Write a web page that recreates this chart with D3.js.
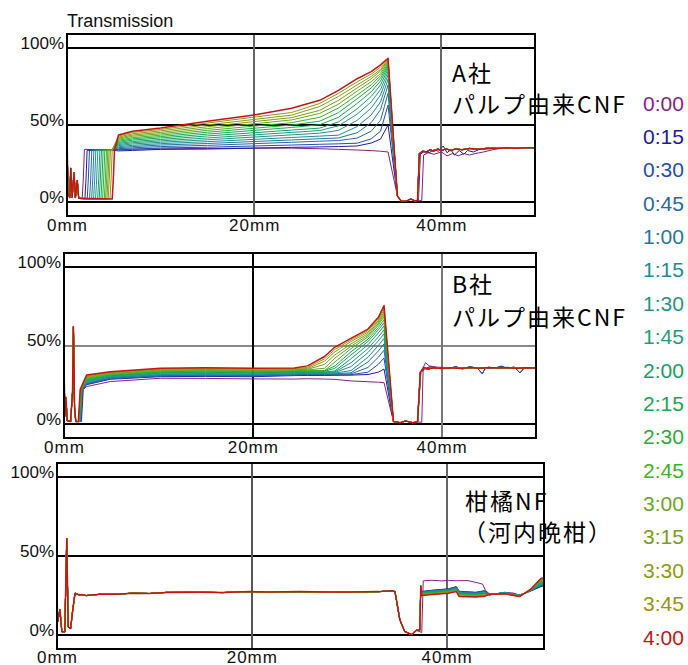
<!DOCTYPE html>
<html>
<head>
<meta charset="utf-8">
<script src="https://cdn.jsdelivr.net/npm/d3@7"></script>
<style>
body { margin: 0; background: #fff; }
svg { display: block; font-family: "Liberation Sans", Arial, sans-serif; }
.tick text { font-size: 17px; fill: #111; }
.note { font-family: "Noto Sans CJK JP", sans-serif; font-size: 23px; letter-spacing: 2px; fill: #000; }
.legend text { font-size: 21px; }
</style>
</head>
<body>
<svg id="chart" width="688" height="665"></svg>
<script>
// elapsed time of each profile
var times = ["0:00","0:15","0:30","0:45","1:00","1:15","1:30","1:45","2:00",
             "2:15","2:30","2:45","3:00","3:15","3:30","3:45","4:00"];
var colors = ["#8a1c8c","#1a1aa8","#1e50b0","#2868a8","#1e78a0","#1e8c98","#1e9688","#1e9e78","#14a064",
              "#14aa50","#1eb03c","#3cb428","#64aa1e","#78a014","#8c9b14","#96960f","#c81414"];

var xTicks = [0, 20, 40];
var yTicks = [0, 50, 100];

// ---- A社 パルプ由来CNF  (x = mm, y = %) ----
var headA = [[0,47],[0.1,5],[0.3,3],[0.4,22],[0.55,3],[0.75,19],[0.9,3],[1.1,14],[1.25,2.5]];
var stepA = [1.74,2.03,2.28,2.53,2.75,2.96,3.17,3.39,3.56,3.74,3.92,4.10,4.24,4.38,4.52,4.71,4.95];
var fanXA = [5.5, 7, 10, 15, 20, 24, 27, 29, 31, 32.5, 33.5, 34.3];
var fanA = [
  [34.2,34.4,34.5,34.8,35.0,35.0,34.6,34.2,33.8,33.4,33.0,32.5],
  [33.2,33.5,34.2,34.4,35.0,35.5,35.8,36.0,36.4,38.3,40.9,50.0],
  [33.9,34.3,35.1,35.6,36.4,37.0,37.5,37.8,38.2,41.0,46.0,63.0],
  [34.6,35.2,36.0,36.8,37.9,38.8,39.5,39.9,41.5,46.0,53.0,70.6],
  [35.3,36.0,37.0,38.0,39.3,40.3,41.1,41.6,45.0,51.5,60.0,76.0],
  [35.9,36.8,37.9,39.2,40.7,41.9,42.8,43.4,49.0,56.5,65.0,79.7],
  [36.6,37.7,38.8,40.4,42.2,43.6,44.7,46.5,53.0,61.0,69.5,82.5],
  [37.3,38.5,39.7,41.6,43.6,45.2,46.4,49.5,57.0,65.0,73.0,84.6],
  [38.0,39.3,40.6,42.9,45.0,46.7,48.0,52.0,60.5,68.5,76.0,86.4],
  [38.7,40.2,41.6,44.1,46.5,48.4,50.2,55.0,64.0,71.5,78.5,87.9],
  [39.4,41.0,42.5,45.3,47.9,50.0,52.5,58.0,67.0,74.0,80.5,89.0],
  [40.1,41.8,43.4,46.5,49.3,51.5,55.0,61.0,69.5,76.0,82.0,90.0],
  [40.8,42.7,44.3,47.7,50.8,53.3,57.5,63.5,72.0,78.0,83.5,90.9],
  [41.4,43.5,45.2,48.9,52.2,54.8,59.5,66.0,74.0,80.0,85.0,91.6],
  [42.1,44.3,46.2,50.1,53.6,56.4,62.0,68.5,76.0,81.5,86.0,92.2],
  [42.8,45.2,47.1,51.3,55.1,58.1,64.0,70.5,78.0,83.0,87.5,92.6],
  [43.5,46.0,48.0,52.5,56.5,60.8,66.0,72.5,80.0,84.6,89.0,93.3]
];
var dropA = [[35.3,4],[35.7,0.6],[36.2,0.5],[36.7,2],[37.2,0.8]];
var tailA = [[37.45,1.2],[37.65,31.5],[38.0,33],[38.4,32.5],[38.8,34],[39.2,33],[39.6,34.5],[40.0,33.5],
             [40.5,34.5],[41.0,33.5],[41.5,34.5],[42.2,34],[43,34.8],[44,34.3],[45,35],[46,34.8],
             [47,35.2],[48,35],[49,35.3],[50,35.2]];
var tailA0 = [[37.9,1],[38.1,30.5],[38.6,32],[39.2,31],[40,32.5],[40.6,30],[41.2,31.5],[41.8,30],
              [42.4,31.5],[43,30.5],[43.6,31.5],[44.5,32.5],[45.5,34],[46.3,35],[47,34.8],[48,35],[50,35.2]];
var tailA1 = [[37.55,1.2],[37.75,31],[38.2,33],[38.7,32],[39.2,34],[39.7,33],[40.2,36.4],[40.6,32],
              [41,34],[41.4,30.5],[41.9,33.5],[42.4,31],[42.8,33.5],[43.4,32.5],[44,34],[45,34.6],
              [46,35],[48,35],[50,35.2]];

// ---- B社 パルプ由来CNF ----
var headB = [[0,37],[0.1,5],[0.2,17],[0.35,2],[0.7,1.5],[0.9,20],[1.0,62],[1.12,10],[1.25,1.5]];
var stepB = [1.95,1.88,1.86,1.84,1.82,1.80,1.78,1.76,1.74,1.72,1.70,1.68,1.67,1.66,1.65,1.64,1.62];
var fanXB = [2.4, 4.9, 10.2, 15, 20, 24.4, 25.8, 27.6, 28.7, 30.4, 32.2, 33.3, 33.9];
var fanB = [
  [23.8,27.0,29.1,29.0,28.7,28.6,28.8,28.6,28.4,27.4,26.9,26.6,26.3],
  [25.0,28.5,30.1,30.3,30.1,30.8,30.9,30.9,31.0,31.1,31.5,33.0,35.0],
  [25.4,28.8,30.5,30.7,30.5,31.1,31.2,31.2,31.3,31.4,33.0,38.0,42.0],
  [25.8,29.1,30.8,31.0,30.8,31.4,31.5,31.5,31.6,31.9,36.0,42.5,47.0],
  [26.2,29.5,31.2,31.4,31.2,31.8,31.9,31.9,32.0,32.6,39.5,46.5,51.0],
  [26.7,29.8,31.5,31.8,31.5,32.1,32.2,32.2,32.4,34.0,42.5,50.0,54.5],
  [27.1,30.1,31.9,32.1,31.9,32.4,32.5,32.5,32.8,36.5,45.5,53.0,57.5],
  [27.5,30.4,32.3,32.5,32.3,32.7,32.8,32.8,33.2,39.0,48.0,55.5,60.0],
  [27.9,30.7,32.6,32.9,32.6,33.0,33.1,33.1,33.8,41.5,50.5,58.0,62.5],
  [28.3,31.1,33.0,33.2,33.0,33.4,33.5,33.5,35.5,44.0,52.5,60.0,64.5],
  [28.7,31.4,33.3,33.6,33.3,33.7,33.8,33.8,37.0,46.0,54.0,61.5,66.5],
  [29.1,31.7,33.7,34.0,33.7,34.0,34.1,34.0,39.5,48.0,55.5,63.0,68.5],
  [29.5,32.0,34.1,34.3,34.1,34.3,34.4,35.5,42.0,49.5,56.5,64.0,70.0],
  [30.0,32.3,34.4,34.7,34.4,34.6,34.8,38.0,44.0,51.0,57.5,65.0,71.5],
  [30.4,32.7,34.8,35.1,34.8,35.0,35.3,40.0,46.0,52.5,58.5,66.0,73.0],
  [30.8,33.0,35.1,35.4,35.1,35.3,36.0,41.5,47.5,53.5,59.5,67.0,74.3],
  [31.2,33.3,35.5,35.8,35.5,35.6,37.0,43.0,49.0,54.6,60.5,68.0,75.5]
];
var dropB = [[34.9,1.5],[35.6,0.8],[36.2,1.8],[36.9,0.8],[37.45,1.2]];
var tailB = [[37.75,33],[38.1,36],[38.5,35],[39.2,35.8],[40,35.3],[41,35.8],[42,35.4],[43,35.9],
             [44,35.5],[45,36],[46,35.6],[47,35.9],[48,35.5],[49,35.8],[50,35.6]];
var tailB0 = [[37.9,1],[38.05,36],[38.3,39],[38.7,37],[39.5,36.2],[41,35.8],[43,35.5],[46,35.8],[50,35.6]];
var tailB1 = [[37.8,33],[38.2,35],[38.8,36.5],[39.4,35.2],[40,36],[40.8,35.2],[41.5,36.6],[42.2,35],
              [43,36.5],[43.8,35.5],[44.3,32],[44.7,36],[45.5,35.3],[46.3,36.8],[47,35.4],[47.7,36.3],
              [48.3,32.5],[48.8,36],[49.5,35.5],[50,36]];

// ---- 柑橘NF（河内晩柑） ----
var headC = [[0,37],[0.05,8],[0.3,16],[0.5,2],[0.8,2],[1.0,61],[1.15,5],[1.4,4],[1.6,15],[1.85,26.4],
             [2.2,25.5],[3,24.9],[4.4,25.7],[6,25.8],[7.8,26.4],[9.5,26.2],[11.2,26.9],[14.7,27],
             [17,26.8],[19.8,27.4],[22,27.1],[24.9,27.4],[27.5,27.1],[30,27.2],[33.1,27.4],[34.4,28],
             [34.7,27.4],[35.2,9.5],[35.7,2.1],[36.4,0.2],[36.9,2.8]];
var spikeC = [[37.25,3],[37.35,31]];
var tailXC = [37.45, 38.5, 40.2, 41.0, 41.3, 43, 43.9, 44.4, 46, 47.5, 48.6, 49.7, 50];
var tailC = [
  [27.5,28.3,29.2,30.6,27.6,27.0,28.0,25.3,27.0,25.3,27.8,30.6,31.0],
  [27.3,28.1,29.0,30.4,27.4,26.8,27.8,25.3,26.9,25.2,27.9,31.0,31.3],
  [27.2,27.9,28.8,30.2,27.2,26.6,27.5,25.4,26.9,25.2,27.9,31.3,31.7],
  [27.0,27.7,28.6,30.0,26.9,26.4,27.3,25.4,26.8,25.1,28.0,31.7,32.0],
  [26.8,27.6,28.5,29.7,26.7,26.2,27.1,25.4,26.7,25.0,28.1,32.0,32.3],
  [26.7,27.4,28.3,29.5,26.5,26.0,26.8,25.4,26.7,25.0,28.1,32.4,32.7],
  [26.5,27.2,28.1,29.3,26.3,25.8,26.6,25.5,26.6,24.9,28.2,32.7,33.0],
  [26.3,27.0,27.9,29.1,26.1,25.6,26.4,25.5,26.5,24.8,28.3,33.1,33.3],
  [26.2,26.8,27.7,28.9,25.8,25.4,26.1,25.5,26.5,24.8,28.3,33.4,33.7],
  [26.0,26.6,27.5,28.7,25.6,25.2,25.9,25.5,26.4,24.7,28.4,33.8,34.0],
  [25.8,26.4,27.3,28.5,25.4,25.0,25.7,25.6,26.3,24.6,28.5,34.1,34.3],
  [25.7,26.2,27.1,28.3,25.2,24.8,25.4,25.6,26.3,24.6,28.5,34.5,34.7],
  [25.5,26.1,27.0,28.0,25.0,24.6,25.2,25.6,26.2,24.5,28.6,34.8,35.0],
  [25.3,25.9,26.8,27.8,24.7,24.4,25.0,25.6,26.1,24.4,28.7,35.2,35.3],
  [25.2,25.7,26.6,27.6,24.5,24.2,24.7,25.7,26.1,24.4,28.7,35.5,35.7],
  [25.0,25.5,26.4,27.4,24.3,24.0,24.5,25.7,26.0,24.3,28.8,35.9,36.0]
];
var tailC0 = [[37.45,1.5],[37.6,34.2],[38.5,34.6],[39.5,34.2],[40.2,34.5],[41,34.3],[42.2,34.4],[43.2,33],
              [43.7,32.1],[44.0,28],[44.4,26],[45.5,26.2],[46.8,26.6],[47.5,25],[48.6,27.6],[49.7,31],[50,31.4]];

function buildA(i) {
  var s = stepA[i];
  var pts = headA.slice();
  pts.push([s - 0.12, 2], [s, 15], [s + 0.12, i == 0 ? 34.2 : 33.5]);
  if (s < 4.6) pts.push([4.8, 33.7]);
  fanXA.forEach(function(x, k) { pts.push([x, fanA[i][k]]); });
  return pts.concat(dropA, i == 0 ? tailA0 : (i == 1 ? tailA1 : tailA));
}
function buildB(i) {
  var s = stepB[i];
  var pts = headB.slice();
  pts.push([s - 0.1, 1.5], [s + 0.1, 22]);
  fanXB.forEach(function(x, k) { pts.push([x, fanB[i][k]]); });
  return pts.concat(dropB, i == 0 ? tailB0 : (i <= 2 ? tailB1 : tailB));
}
function buildC(i) {
  var pts = headC.slice();
  if (i == 0) return pts.concat(tailC0);
  pts = pts.concat(spikeC);
  tailXC.forEach(function(x, k) { pts.push([x, tailC[i - 1][k]]); });
  return pts;
}

var panels = [
  {left: 67, right: 535, top: 34, bottom: 216, build: buildA,
   hGrid: ["#000", "#000", "#000"], vGrid: ["#666", "#666"],
   notes: [{t: "A社", x: 452, y: 82}, {t: "パルプ由来CNF", x: 452, y: 113}]},
  {left: 64, right: 536, top: 253, bottom: 438, build: buildB,
   hGrid: ["#000", "#888", "#000"], vGrid: ["#000", "#777"],
   notes: [{t: "B社", x: 452, y: 293}, {t: "パルプ由来CNF", x: 452, y: 326}]},
  {left: 57, right: 544, top: 463, bottom: 649, build: buildC,
   hGrid: ["#000", "#000", "#000"], vGrid: ["#555", "#666"],
   notes: [{t: "柑橘NF", x: 465, y: 510}, {t: "（河内晩柑）", x: 463, y: 541}]}
];

var svg = d3.select("#chart");

svg.append("text")
    .attr("x", 67).attr("y", 27)
    .style("font-size", "18px").attr("fill", "#111")
    .text("Transmission");

panels.forEach(function(p, pi) {
  var x = d3.scaleLinear().domain([0, 50]).range([p.left, p.right]);
  var y = d3.scaleLinear().domain([-9, 109]).range([p.bottom, p.top]);
  var g = svg.append("g");

  // grid
  yTicks.forEach(function(v, k) {
    g.append("line")
        .attr("x1", p.left).attr("x2", p.right)
        .attr("y1", Math.round(y(v))).attr("y2", Math.round(y(v)))
        .attr("stroke", p.hGrid[2 - k]).attr("stroke-width", 1.4)
        .attr("shape-rendering", "crispEdges");
  });
  xTicks.slice(1).forEach(function(v, k) {
    g.append("line")
        .attr("x1", Math.round(x(v))).attr("x2", Math.round(x(v)))
        .attr("y1", p.top).attr("y2", p.bottom)
        .attr("stroke", p.vGrid[k]).attr("stroke-width", 1.4)
        .attr("shape-rendering", "crispEdges");
  });

  // curves
  svg.append("clipPath").attr("id", "clip" + pi)
    .append("rect")
      .attr("x", p.left).attr("y", p.top)
      .attr("width", p.right - p.left).attr("height", p.bottom - p.top);

  var line = d3.line()
      .x(function(d) { return x(d[0]); })
      .y(function(d) { return y(d[1]); });

  g.append("g").attr("clip-path", "url(#clip" + pi + ")")
    .selectAll("path")
    .data(times.map(function(t, i) { return p.build(i); }))
    .enter().append("path")
      .attr("d", line)
      .attr("fill", "none")
      .attr("stroke", function(d, i) { return colors[i]; })
      .attr("stroke-width", function(d, i) { return i == 16 ? 1.5 : 1; })
      .attr("stroke-linejoin", "round");

  // frame
  g.append("rect")
      .attr("x", p.left).attr("y", p.top)
      .attr("width", p.right - p.left).attr("height", p.bottom - p.top)
      .attr("fill", "none").attr("stroke", "#000").attr("stroke-width", 1.6)
      .attr("shape-rendering", "crispEdges");

  // axes
  var yAxis = g.append("g")
      .attr("transform", "translate(" + p.left + ",0)")
      .call(d3.axisLeft(y).tickValues(yTicks).tickSize(0).tickPadding(3)
            .tickFormat(function(d) { return d + "%"; }));
  yAxis.select(".domain").remove();
  yAxis.selectAll("text").attr("y", -5);

  var xAxis = g.append("g")
      .attr("transform", "translate(0," + p.bottom + ")")
      .call(d3.axisBottom(x).tickValues(xTicks).tickSize(0).tickPadding(pi == 2 ? 2 : 3)
            .tickFormat(function(d) { return d + "mm"; }));
  xAxis.select(".domain").remove();
  xAxis.selectAll("text").style("letter-spacing", "1px");

  // labels
  p.notes.forEach(function(n) {
    g.append("text").attr("class", "note")
        .attr("x", n.x).attr("y", n.y).text(n.t);
  });
});

// legend
svg.append("g").attr("class", "legend")
  .selectAll("text")
  .data(times)
  .enter().append("text")
    .attr("x", 643)
    .attr("y", function(d, i) { return 110.5 + i * 33.375; })
    .attr("fill", function(d, i) { return colors[i]; })
    .text(function(d) { return d; });
</script>
</body>
</html>
